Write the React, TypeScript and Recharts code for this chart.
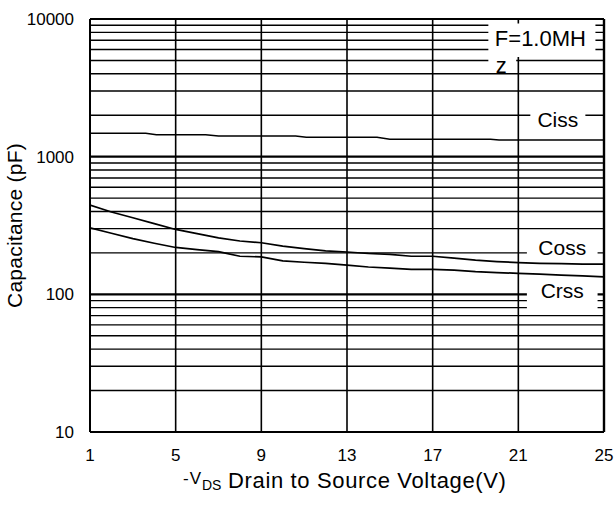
import React from 'react';
import { LineChart, Line, XAxis, YAxis, CartesianGrid, ReferenceArea } from 'recharts';

// ---- data ----
const voltage = [1, 2, 3, 4, 5, 6, 7, 8, 9, 10, 11, 12, 13, 14, 15, 16, 17, 18, 19, 20, 21, 22, 23, 24, 25];
const coss = [445, 396, 360, 326, 296, 276, 257, 244, 237, 224, 215, 207, 203, 198, 195, 189, 189, 183, 177, 173, 170, 168, 167, 166, 166];
const crss = [304, 278, 254, 235, 219, 211, 204, 189, 187, 175, 171, 168, 163, 158, 155, 152, 152, 150, 146, 144, 142, 140, 138, 136, 134];
const cissVoltage = [1, 2, 3.6, 4.1, 6.4, 7.0, 10.6, 11.1, 14.4, 15.0, 19.7, 20.1, 25];
const ciss = [1477, 1477, 1477, 1442, 1442, 1412, 1412, 1381, 1381, 1336, 1336, 1321, 1321];

const xTicks = [1, 5, 9, 13, 17, 21, 25];
const yTicks = [10, 20, 30, 40, 50, 60, 70, 80, 90, 100, 200, 300, 400, 500, 600, 700, 800, 900, 1000, 2000, 3000, 4000, 5000, 6000, 7000, 8000, 9000, 10000];
const yTickLabels = [10, 100, 1000, 10000];

const mainData = voltage.map((v, i) => ({ v, coss: coss[i], crss: crss[i] }));
const cissData = cissVoltage.map((v, i) => ({ v, ciss: ciss[i] }));

// ---- layout / style ----
const FONT = '"Liberation Sans", Arial, Helvetica, sans-serif';
const W = 616;
const H = 505;
const PLOT_TOP = 19;
const PLOT_BOTTOM = 432;

const renderH = (p: any) => {
  const step = (PLOT_BOTTOM - PLOT_TOP) / 3;
  const rel = (p.y1 - PLOT_TOP) / step;
  const isDecade = Math.abs(rel - Math.round(rel)) < 0.02;
  return (
    <line key={`h-${p.index}-${p.y1}`} x1={p.x1} x2={p.x2} y1={p.y1} y2={p.y2} stroke="#000" strokeWidth={isDecade ? 2.2 : 1.4} />
  );
};

const renderV = (p: any) => {
  const isEdge = p.x1 > 600;
  return (
    <line key={`v-${p.index}-${p.x1}`} x1={p.x1} x2={p.x2} y1={p.y1} y2={p.y2} stroke="#000" strokeWidth={isEdge ? 2.4 : 1.6} />
  );
};

const YTick = (props: any) => {
  const { x, y, payload } = props;
  if (!yTickLabels.includes(payload.value)) return null;
  return (
    <text x={x} y={y} dy="0.36em" textAnchor="end" fontFamily={FONT} fontSize={17} fill="#000">
      {String(payload.value)}
    </text>
  );
};

const XTick = (props: any) => {
  const { x, y, payload } = props;
  return (
    <text x={x} y={y} dy="0.71em" textAnchor="middle" fontFamily={FONT} fontSize={17} fill="#000">
      {String(payload.value)}
    </text>
  );
};

const boxLabel = (text: string, dx: number, baselineFromTop: number, size: number) => (props: any) => {
  const vb = props.viewBox || { x: 0, y: 0, width: 0, height: 0 };
  return (
    <text
      x={vb.x + vb.width / 2 + dx}
      y={vb.y + baselineFromTop}
      textAnchor="middle"
      fontFamily={FONT}
      fontSize={size}
      fill="#000"
    >
      {text}
    </text>
  );
};

const renderXTitle = () => (
  <text fontFamily={FONT} fill="#000">
    <tspan x={183} y={484} fontSize={17} letterSpacing={1}>-V</tspan>
    <tspan x={202} y={490} fontSize={14}>DS</tspan>
    <tspan x={228} y={488} fontSize={22} letterSpacing={0.65}>Drain to Source Voltage(V)</tspan>
  </text>
);

const renderYTitle = () => (
  <text
    x={22}
    y={225.5}
    transform="rotate(-90 22 225.5)"
    textAnchor="middle"
    fontFamily={FONT}
    fontSize={21}
    letterSpacing={0.25}
    fill="#000"
  >
    Capacitance (pF)
  </text>
);

export default function App() {
  return (
    <div style={{ position: 'absolute', left: 0, top: 0, width: W, height: H, background: '#fff' }}>
      <LineChart
        width={W}
        height={H}
        data={mainData}
        margin={{ top: PLOT_TOP, right: 12, bottom: 33, left: 0 }}
        style={{ fontFamily: FONT }}
      >
        <CartesianGrid horizontal={renderH} vertical={renderV} stroke="#000" />
        <XAxis
          type="number"
          dataKey="v"
          domain={[1, 25]}
          ticks={xTicks}
          interval={0}
          height={40}
          tickLine={false}
          tickSize={0}
          tickMargin={17}
          axisLine={{ stroke: '#000', strokeWidth: 2 }}
          tick={<XTick />}
          allowDataOverflow
          label={renderXTitle}
        />
        <YAxis
          type="number"
          scale="log"
          domain={[10, 10000]}
          ticks={yTicks}
          interval={0}
          width={90}
          tickLine={false}
          tickSize={0}
          tickMargin={16}
          axisLine={{ stroke: '#000', strokeWidth: 2 }}
          tick={<YTick />}
          allowDataOverflow
          label={renderYTitle}
        />
        <ReferenceArea x1={19.6} x2={24.6} y1={9275} y2={5300} fill="#fff" fillOpacity={1} stroke="none" label={boxLabel('F=1.0MH', -1.5, 22.5, 22)} />
        <ReferenceArea x1={19.6} x2={20.9} y1={5300} y2={4100} fill="#fff" fillOpacity={1} stroke="none" label={boxLabel('z', -1, 15.8, 22)} />
        <ReferenceArea x1={21.56} x2={24.13} y1={2371} y2={1561} fill="#fff" fillOpacity={1} stroke="none" label={boxLabel('Ciss', 0, 21.7, 21)} />
        <ReferenceArea x1={21.4} x2={24.7} y1={248} y2={183} fill="#fff" fillOpacity={1} stroke="none" label={boxLabel('Coss', 0, 15, 21)} />
        <ReferenceArea x1={21.4} x2={24.7} y1={125} y2={78} fill="#fff" fillOpacity={1} stroke="none" label={boxLabel('Crss', 0, 17, 21)} />
        <Line data={cissData} dataKey="ciss" type="linear" stroke="#000" strokeWidth={1.5} dot={false} isAnimationActive={false} />
        <Line dataKey="coss" type="linear" stroke="#000" strokeWidth={1.7} dot={false} isAnimationActive={false} />
        <Line dataKey="crss" type="linear" stroke="#000" strokeWidth={1.7} dot={false} isAnimationActive={false} />
      </LineChart>
    </div>
  );
}
